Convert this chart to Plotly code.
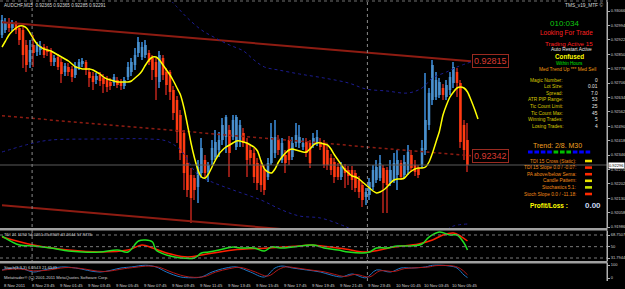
import plotly.graph_objects as go

W, H = 625, 289
PLOT_R = 607


def px(x):
    return x / W


def py(y):
    return 1 - y / H


SCALE = 1e5  # prices below are in points (0.00001)

OPEN_PTS = [92946, 92971, 93011, 92981, 93001, 92981, 92971, 92896, 92811, 92896,
            92861, 92871, 92886, 92871, 92861, 92811, 92836, 92811, 92761, 92786,
            92776, 92746, 92786, 92801, 92811, 92761, 92741, 92721, 92746, 92731,
            92721, 92711, 92706, 92721, 92711, 92691, 92736, 92761, 92796, 92856,
            92836, 92846, 92856, 92831, 92811, 92711, 92831, 92761, 92761, 92671,
            92621, 92546, 92456, 92306, 92246, 92231, 92186, 92256, 92321, 92261,
            92321, 92336, 92371, 92421, 92436, 92471, 92436, 92386, 92421, 92456,
            92406, 92371, 92356, 92306, 92296, 92271, 92236, 92306, 92356, 92421,
            92321, 92346, 92421, 92336, 92406, 92406, 92386, 92411, 92406, 92396,
            92406, 92411, 92406, 92371, 92331, 92311, 92286, 92236, 92281, 92271,
            92271, 92256, 92221, 92196, 92136, 92146, 92186, 92221, 92231, 92281,
            92271, 92211, 92221, 92246, 92306, 92246, 92271, 92346, 92296, 92281,
            92296, 92371, 92496, 92621, 92636, 92646, 92681, 92636, 92671, 92706,
            92761, 92706, 92496, 92421]
HIGH_PTS = [93046, 93031, 93031, 93021, 93016, 92996, 92986, 92921, 92921, 92946,
            92911, 92916, 92901, 92891, 92881, 92846, 92851, 92831, 92806, 92806,
            92791, 92811, 92826, 92831, 92821, 92781, 92761, 92756, 92761, 92751,
            92741, 92731, 92751, 92736, 92726, 92736, 92811, 92831, 92881, 92936,
            92911, 92921, 92871, 92846, 92831, 92866, 92846, 92781, 92771, 92691,
            92641, 92571, 92471, 92346, 92281, 92246, 92321, 92431, 92346, 92311,
            92421, 92471, 92461, 92531, 92546, 92496, 92546, 92546, 92521, 92481,
            92431, 92396, 92381, 92331, 92321, 92296, 92331, 92506, 92521, 92446,
            92431, 92371, 92441, 92436, 92506, 92496, 92431, 92431, 92421, 92456,
            92471, 92431, 92421, 92391, 92351, 92331, 92306, 92311, 92301, 92291,
            92291, 92271, 92241, 92211, 92181, 92231, 92296, 92321, 92346, 92296,
            92286, 92321, 92356, 92371, 92321, 92346, 92396, 92371, 92321, 92296,
            92421, 92756, 92681, 92821, 92761, 92731, 92701, 92721, 92761, 92811,
            92781, 92721, 92521, 92506]
LOW_PTS = [92931, 92956, 92961, 92966, 92951, 92896, 92781, 92761, 92781, 92786,
           92841, 92846, 92831, 92841, 92791, 92791, 92771, 92706, 92741, 92741,
           92711, 92731, 92771, 92786, 92746, 92686, 92671, 92701, 92691, 92656,
           92661, 92671, 92691, 92681, 92671, 92676, 92721, 92741, 92771, 92836,
           92821, 92831, 92796, 92721, 92621, 92681, 92721, 92646, 92621, 92521,
           92406, 92321, 92171, 92136, 92006, 92121, 92106, 92231, 92236, 92211,
           92296, 92321, 92336, 92396, 92356, 92236, 92421, 92371, 92386, 92386,
           92236, 92296, 92206, 92171, 92161, 92146, 92221, 92296, 92331, 92346,
           92306, 92256, 92296, 92321, 92386, 92381, 92371, 92336, 92281, 92381,
           92391, 92371, 92281, 92271, 92246, 92206, 92221, 92221, 92181, 92196,
           92171, 92161, 92131, 92086, 92096, 92121, 92171, 92206, 92216, 92056,
           92056, 92191, 92206, 92171, 92221, 92231, 92246, 92261, 92241, 92231,
           92281, 92346, 92471, 92596, 92621, 92631, 92621, 92621, 92646, 92681,
           92636, 92381, 92321, 92261]
CLOSE_PTS = [93021, 93011, 92981, 93001, 92971, 92921, 92846, 92796, 92871, 92856,
             92896, 92891, 92846, 92861, 92811, 92831, 92786, 92751, 92791, 92761,
             92736, 92791, 92811, 92816, 92771, 92731, 92711, 92741, 92716, 92701,
             92686, 92691, 92736, 92696, 92691, 92721, 92786, 92811, 92846, 92911,
             92886, 92896, 92811, 92771, 92736, 92846, 92746, 92696, 92661, 92556,
             92461, 92356, 92256, 92171, 92131, 92171, 92286, 92381, 92256, 92296,
             92381, 92411, 92421, 92496, 92536, 92356, 92521, 92536, 92496, 92406,
             92321, 92331, 92236, 92206, 92196, 92171, 92306, 92436, 92436, 92371,
             92406, 92306, 92321, 92406, 92446, 92436, 92406, 92356, 92306, 92431,
             92436, 92386, 92296, 92296, 92271, 92236, 92236, 92286, 92256, 92241,
             92221, 92181, 92161, 92121, 92161, 92211, 92271, 92286, 92306, 92206,
             92196, 92271, 92306, 92321, 92236, 92311, 92361, 92281, 92261, 92246,
             92381, 92521, 92656, 92796, 92721, 92711, 92646, 92696, 92736, 92786,
             92706, 92411, 92371, 92296]

MA_PTS = [92886, 92916, 92946, 92966, 92981, 92991, 92991, 92981, 92956, 92926,
          92901, 92886, 92876, 92871, 92866, 92856, 92846, 92836, 92826, 92816,
          92801, 92786, 92781, 92776, 92776, 92776, 92771, 92761, 92751, 92736,
          92726, 92721, 92716, 92711, 92711, 92711, 92711, 92716, 92731, 92746,
          92766, 92796, 92821, 92836, 92836, 92821, 92796, 92771, 92746, 92716,
          92681, 92646, 92581, 92496, 92406, 92331, 92271, 92236, 92231, 92251,
          92286, 92321, 92351, 92371, 92386, 92396, 92406, 92416, 92416, 92411,
          92406, 92396, 92386, 92366, 92316, 92276, 92261, 92256, 92276, 92311,
          92336, 92356, 92371, 92376, 92371, 92366, 92361, 92361, 92376, 92396,
          92406, 92406, 92401, 92396, 92376, 92346, 92321, 92296, 92271, 92256,
          92241, 92236, 92226, 92211, 92196, 92181, 92166, 92156, 92161, 92171,
          92186, 92206, 92221, 92226, 92226, 92231, 92251, 92266, 92276, 92281,
          92281, 92286, 92311, 92356, 92411, 92466, 92546, 92596, 92636, 92661,
          92681, 92686, 92681, 92661, 92621, 92576, 92526]

UPPER_BAND_BARS = [46, 50, 53, 57, 61, 65, 69, 72, 75, 79, 85, 92, 99, 104, 110, 116, 120, 123, 127, 130, 134]
UPPER_BAND_PTS = [93161, 93086, 93031, 92971, 92931, 92896, 92866, 92821, 92786, 92771, 92751,
                  92731, 92706, 92676, 92666, 92656, 92681, 92731, 92761, 92786, 92811]
LOWER_BAND_BARS = [0, 9, 14, 28, 42, 47, 51, 56, 60, 66, 74, 80, 85, 91, 97, 99, 103, 110, 120, 126, 129, 133]
LOWER_BAND_PTS = [92361, 92406, 92421, 92426, 92426, 92416, 92371, 92246, 92211, 92171, 92121,
                  92071, 92041, 92031, 91996, 91981, 91931, 91896, 91921, 91961, 91991, 92001]

CHANNEL_BARS = [0, 134]
CHANNEL_UPPER = [93010, 92815]
CHANNEL_MID = [92542, 92342]
CHANNEL_LOWER = [92095, 91895]
BID_PTS = 92296

PRICE_TICKS = [91986, 92058, 92130, 92202, 92274, 92346, 92418, 92490, 92562,
               92634, 92706, 92778, 92850, 92922, 92994, 93066]

TDI_GREEN_BARS = [0, 5, 9, 14, 19, 23, 28, 33, 36, 39, 41, 43, 44, 47, 51, 55, 57, 59, 62, 66,
                  68, 72, 75, 77, 80, 83, 89, 92, 96, 99, 103, 105, 107, 110, 113, 117, 120, 122,
                  125, 128, 130, 132, 133]
TDI_GREEN = [67.1, 52.7, 51.1, 47.9, 43.0, 41.4, 41.4, 44.6, 41.4, 59.1, 60.7, 57.5, 44.6, 36.6,
             31.8, 31.8, 39.8, 41.4, 44.6, 49.5, 47.9, 47.9, 43.0, 49.5, 47.9, 49.5, 52.7, 47.9,
             44.6, 41.4, 39.8, 41.4, 47.9, 47.9, 51.1, 51.1, 54.3, 65.5, 73.6, 68.8, 68.8, 55.9, 44.6]
TDI_RED_BARS = [0, 9, 19, 28, 36, 40, 43, 47, 53, 57, 66, 76, 85, 88, 98, 104, 112, 119, 123, 126, 129, 131, 133]
TDI_RED = [65.5, 52.7, 44.6, 41.4, 44.6, 52.7, 47.9, 39.8, 33.4, 36.6, 44.6, 47.9, 51.1, 52.7,
           46.3, 41.4, 49.5, 54.3, 60.7, 68.8, 72.0, 67.1, 59.1]
TDI_LEVELS = [68.7507, 50, 31.7944]

STO_MAIN_BARS = [0, 5, 9, 12, 17, 21, 28, 34, 37, 41, 44, 47, 51, 54, 57, 60, 64, 67, 71, 75, 78,
                 80, 83, 87, 91, 94, 97, 100, 104, 107, 111, 114, 117, 121, 123, 128, 130, 132, 133]
STO_MAIN = [62, 77, 46, 62, 85, 77, 46, 77, 85, 98, 85, 46, 8, 2, 8, 46, 77, 85, 46, 8, 77,
            92, 77, 62, 46, 23, 8, 31, 2, 62, 46, 77, 77, 85, 98, 92, 77, 23, 3]
STO_SIG_BARS = [0, 5, 9, 13, 18, 22, 29, 35, 38, 42, 45, 48, 52, 55, 58, 61, 65, 68, 72, 76, 79,
                81, 84, 88, 92, 95, 98, 101, 105, 108, 112, 115, 118, 122, 124, 129, 131, 133]
STO_SIG = [60, 70, 55, 60, 80, 75, 50, 72, 82, 92, 82, 50, 15, 5, 12, 45, 72, 82, 50, 15, 65,
           85, 78, 62, 48, 28, 12, 28, 8, 55, 50, 72, 78, 85, 95, 92, 72, 25]

DATE_BARS = [0, 8, 16, 24, 32, 40, 48, 56, 64, 72, 80, 88, 96, 104, 112, 120, 128]
DATE_LABELS = ["8 Nov 2011", "8 Nov 23:45", "9 Nov 01:45", "9 Nov 03:45", "9 Nov 05:45",
               "9 Nov 07:45", "9 Nov 09:45", "9 Nov 11:45", "9 Nov 13:45", "9 Nov 15:45",
               "9 Nov 17:45", "9 Nov 19:45", "9 Nov 21:45", "9 Nov 23:45", "10 Nov 01:45",
               "10 Nov 03:45", "10 Nov 05:45"]
SEPARATOR_BARS = [8.6, 104.4]

STAT_LABELS = ["Magic Number:", "Lot Size:", "Spread:", "ATR PIP Range:", "Tic Count Limit:",
               "Tic Count Max:", "Winning Trades:", "Losing Trades:"]
STAT_VALUES = ["0", "0.01", "7.0", "53", "25", "45", "5", "4"]
SIGNAL_LABELS = ["TDI 15 Cross (Static):", "TDI 15 Slope 0.0 / -0.07:", "PA above/below Sema:",
                 "Candle Pattern:", "Stochastics 5.1:", "Stoch Slope 0.0 / -11.18:"]
SIGNAL_COLORS = ["#E8E000", "#FF2A00", "#FF2A00", "#E8E000", "#C8E000", "#FF2A00"]
TREND_COLORS = ["#0000FF", "#0000FF", "#0000FF", "#0000FF", "#00C000", "#00C000", "#00C000",
                "#0000FF", "#0000FF", "#0000FF"]

FONT = "Liberation Sans, Arial, sans-serif"

opens = [v / SCALE for v in OPEN_PTS]
highs = [v / SCALE for v in HIGH_PTS]
lows = [v / SCALE for v in LOW_PTS]
closes = [v / SCALE for v in CLOSE_PTS]
bars = list(range(len(opens)))
bull = [c >= o for o, c in zip(opens, closes)]
wick_colors = ["#2D6CA8" if b else "#8E1B14" for b in bull]
body_colors = ["#4A90CC" if b else "#FF3A12" for b in bull]

fig = go.Figure()

# regression channel
fig.add_trace(go.Scatter(x=CHANNEL_BARS, y=[v / SCALE for v in CHANNEL_UPPER], mode="lines",
                         line=dict(color="#8E1C12", width=2), hoverinfo="skip"))
fig.add_trace(go.Scatter(x=CHANNEL_BARS, y=[v / SCALE for v in CHANNEL_MID], mode="lines",
                         line=dict(color="#8E1C12", width=1.5, dash="dot"), hoverinfo="skip"))
fig.add_trace(go.Scatter(x=CHANNEL_BARS, y=[v / SCALE for v in CHANNEL_LOWER], mode="lines",
                         line=dict(color="#8E1C12", width=2), hoverinfo="skip"))
# bands
fig.add_trace(go.Scatter(x=UPPER_BAND_BARS, y=[v / SCALE for v in UPPER_BAND_PTS], mode="lines",
                         line=dict(color="#1C1C90", width=1, dash="dot", shape="spline"), hoverinfo="skip"))
fig.add_trace(go.Scatter(x=LOWER_BAND_BARS, y=[v / SCALE for v in LOWER_BAND_PTS], mode="lines",
                         line=dict(color="#1C1C90", width=1, dash="dot", shape="spline"), hoverinfo="skip"))
# candles
fig.add_trace(go.Bar(x=bars, base=lows, y=[h - l for h, l in zip(highs, lows)], width=0.3,
                     marker=dict(color=wick_colors, line=dict(width=0)), hoverinfo="skip"))
fig.add_trace(go.Bar(x=bars, base=opens, y=[c - o for o, c in zip(opens, closes)], width=0.72,
                     marker=dict(color=body_colors, line=dict(width=0)), hoverinfo="skip"))
# moving average
fig.add_trace(go.Scatter(x=list(range(len(MA_PTS))), y=[v / SCALE for v in MA_PTS], mode="lines",
                         line=dict(color="#FFFF00", width=1.5, shape="spline", smoothing=0.6),
                         hoverinfo="skip"))

# TDI panel
fig.add_trace(go.Scatter(x=TDI_RED_BARS, y=TDI_RED, mode="lines", yaxis="y2",
                         line=dict(color="#FF2000", width=1.5, shape="spline"), hoverinfo="skip"))
fig.add_trace(go.Scatter(x=TDI_GREEN_BARS, y=TDI_GREEN, mode="lines", yaxis="y2",
                         line=dict(color="#20E020", width=1.5, shape="spline"), hoverinfo="skip"))
# Stochastic panel
fig.add_trace(go.Scatter(x=STO_MAIN_BARS, y=STO_MAIN, mode="lines", yaxis="y3",
                         line=dict(color="#1E78C8", width=1, shape="spline"), hoverinfo="skip"))
fig.add_trace(go.Scatter(x=STO_SIG_BARS, y=STO_SIG, mode="lines", yaxis="y3",
                         line=dict(color="#B01818", width=1, shape="spline"), hoverinfo="skip"))

axis_common = dict(side="right", anchor="x", ticks="outside", ticklen=2, tickcolor="#B0B0B0",
                   showline=True, linecolor="#B0B0B0", linewidth=1, showgrid=False, zeroline=False,
                   tickfont=dict(size=4, color="#D0D0D0", family=FONT), automargin=False,
                   fixedrange=True)

shapes = []
# bid line
shapes.append(dict(type="line", xref="paper", yref="y", x0=0, x1=px(PLOT_R), y0=BID_PTS / SCALE,
                   y1=BID_PTS / SCALE, line=dict(color="#5A5A5A", width=1)))
# TDI levels
for lv in TDI_LEVELS:
    shapes.append(dict(type="line", xref="paper", yref="y2", x0=0, x1=px(PLOT_R), y0=lv, y1=lv,
                       line=dict(color="#7A7A7A", width=1, dash="dot")))
# period separators
for sb in SEPARATOR_BARS:
    shapes.append(dict(type="line", xref="x", yref="paper", x0=sb, x1=sb, y0=py(281), y1=py(2),
                       line=dict(color="#8A8A8A", width=1, dash="dot")))
# panel separators
for y_top in (228, 261):
    shapes.append(dict(type="rect", xref="paper", yref="paper", x0=0, x1=px(PLOT_R),
                       y0=py(y_top + 2.5), y1=py(y_top), fillcolor="#A0A0A0", line=dict(width=0)))
# top border and right axis line
shapes.append(dict(type="line", xref="paper", yref="paper", x0=0, x1=px(PLOT_R), y0=py(1), y1=py(1),
                   line=dict(color="#707070", width=1, dash="dot")))
shapes.append(dict(type="line", xref="paper", yref="paper", x0=px(PLOT_R), x1=px(PLOT_R), y0=py(281),
                   y1=py(0), line=dict(color="#B0B0B0", width=1)))
# trend squares
for k, col in enumerate(TREND_COLORS):
    x0 = 528 + k * 6.4
    shapes.append(dict(type="rect", xref="paper", yref="paper", x0=px(x0), x1=px(x0 + 4.6),
                       y0=py(153.5), y1=py(150.5), fillcolor=col, line=dict(width=0)))
# signal markers
for k, col in enumerate(SIGNAL_COLORS):
    yy = 161 + k * 6.6
    shapes.append(dict(type="rect", xref="paper", yref="paper", x0=px(585), x1=px(592),
                       y0=py(yy + 1.3), y1=py(yy - 1.3), fillcolor=col, line=dict(width=0)))

ann = []


def text(x, y, s, color, size, anchor="left", bold=False, **kw):
    if bold:
        s = "<b>" + s + "</b>"
    ann.append(dict(xref="paper", yref="paper", x=px(x), y=py(y), text=s, showarrow=False,
                    xanchor=anchor, yanchor="middle", font=dict(color=color, size=size, family=FONT),
                    borderpad=0, **kw))


text(3, 5, "AUDCHF,M15  0.92365 0.92365 0.92285 0.92291", "#D8D8D8", 4.6)
text(604, 5, "TMS_v19_MTF ©", "#D8D8D8", 4.8, anchor="right")
text(564, 23, "010:034", "#10C810", 8, anchor="center")
text(566, 33, "Looking For Trade", "#FF2020", 6.5, anchor="center")
text(569, 43, "Trading Active 15", "#FF2020", 6.2, anchor="center")
text(571, 50, "Auto Restart Active", "#E8E8E8", 4.8, anchor="center")
text(569, 56.3, "Confused", "#FFFF00", 6.3, anchor="center", bold=True)
text(569, 63, "Within Hours", "#00E000", 4.6, anchor="center")
text(567, 69.5, "Med Trend Up *** Med Sell", "#F09A10", 4.8, anchor="center")
for k, (lab, val) in enumerate(zip(STAT_LABELS, STAT_VALUES)):
    yy = 80 + k * 6.6
    text(564, yy, lab, "#D8C800", 4.8, anchor="right")
    text(599, yy, val, "#E8E8E8", 4.8, anchor="right")
text(557, 145, "Trend: 2/8. M30", "#F0A020", 7, anchor="center")
for k, lab in enumerate(SIGNAL_LABELS):
    text(577, 161 + k * 6.6, lab, "#F08A18", 4.8, anchor="right")
text(549, 205, "Profit/Loss :", "#FFFF00", 6.5, anchor="center", bold=True)
text(593, 205, "0.00", "#C8D8F0", 8, anchor="center", bold=True)

text(3, 234, "TDI 21 1192 54.0251 35.9309 43.2644 57.8735", "#D0D0D0", 4.2)
text(3, 267, "Stoch(3,3,3) 6.0543 21.6541", "#D0D0D0", 4.2)
text(3, 277, "Metatrader® (C) 2001-2011 MetaQuotes Software Corp.", "#D0D0D0", 4.2)

for b, lab in zip(DATE_BARS, DATE_LABELS):
    ann.append(dict(xref="x", yref="paper", x=b, y=py(285.5), text=lab, showarrow=False,
                    xanchor="left", yanchor="middle", font=dict(color="#D0D0D0", size=4.2, family=FONT)))

# channel price boxes
for val in (CHANNEL_UPPER[-1], CHANNEL_MID[-1]):
    ann.append(dict(xref="x", yref="y", x=134.4, y=val / SCALE, text="%.5f" % (val / SCALE),
                    showarrow=False, xanchor="left", yanchor="middle",
                    font=dict(color="#D83A30", size=9, family=FONT),
                    bordercolor="#9A2A20", borderwidth=1, borderpad=1))
# bid price label on axis
ann.append(dict(xref="paper", yref="y", x=px(608), y=BID_PTS / SCALE, text="%.5f" % (BID_PTS / SCALE),
                showarrow=False, xanchor="left", yanchor="middle", bgcolor="#FFFFFF",
                font=dict(color="#000000", size=4, family=FONT), borderpad=0))

fig.update_layout(
    width=W, height=H, margin=dict(l=0, r=0, t=0, b=0),
    paper_bgcolor="#000000", plot_bgcolor="#000000", showlegend=False, barmode="overlay",
    xaxis=dict(domain=[0, px(PLOT_R)], range=[-2 / 3.5, (PLOT_R - 2) / 3.5], visible=False,
               fixedrange=True),
    yaxis=dict(domain=[py(228), py(2)], range=[91981 / SCALE, 93111 / SCALE],
               tickvals=[v / SCALE for v in PRICE_TICKS],
               ticktext=["%.5f" % (v / SCALE) for v in PRICE_TICKS], **axis_common),
    yaxis2=dict(domain=[py(261), py(231)], range=[26.97, 75.18], tickvals=TDI_LEVELS,
                ticktext=["68.7507", "50", "31.7944"], **axis_common),
    yaxis3=dict(domain=[py(281), py(263)], range=[-23.1, 115.4], tickvals=[100, 0],
                ticktext=["100", "0"], **axis_common),
    shapes=shapes, annotations=ann,
)

fig.write_html("out.html")
